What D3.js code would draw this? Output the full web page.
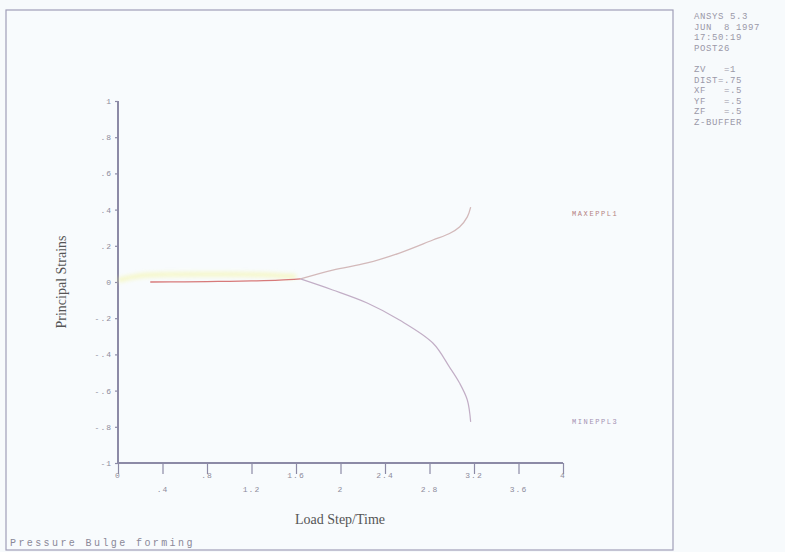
<!DOCTYPE html>
<html>
<head>
<meta charset="utf-8">
<script src="https://cdn.jsdelivr.net/npm/d3@7/dist/d3.min.js"></script>
<style>
  html, body { margin: 0; padding: 0; background: #f7fafc; }
  svg { display: block; }
  text { white-space: pre; }
</style>
</head>
<body>
<svg id="chart" width="785" height="552"></svg>
<script>
// Load step / time values (x) and principal strains (y)
const loadStep   = [0.29, 0.6, 0.9, 1.2, 1.45, 1.64, 1.93, 2.24, 2.53, 2.83, 2.98, 3.07, 3.14, 3.17];
const eppl1      = [0.0, 0.001, 0.003, 0.006, 0.010, 0.017, 0.066, 0.105, 0.160, 0.232, 0.268, 0.304, 0.360, 0.414];
const eppl3      = [0.0, 0.001, 0.003, 0.006, 0.010, 0.017, -0.044, -0.116, -0.210, -0.337, -0.470, -0.558, -0.652, -0.773];
const glowStep   = [0.0, 0.2, 0.5, 0.9, 1.3, 1.6];
const glowStrain = [0.01, 0.035, 0.042, 0.043, 0.04, 0.03];
const splitIndex = 5; // last step of the early (elastic) stage

const xTicks = [0, 0.4, 0.8, 1.2, 1.6, 2, 2.4, 2.8, 3.2, 3.6, 4];
const xTickLabels = ["0", ".4", ".8", "1.2", "1.6", "2", "2.4", "2.8", "3.2", "3.6", "4"];
const yTicks = [1, 0.8, 0.6, 0.4, 0.2, 0, -0.2, -0.4, -0.6, -0.8, -1];
const yTickLabels = ["1", ".8", ".6", ".4", ".2", "0", "-.2", "-.4", "-.6", "-.8", "-1"];
const seriesNames = ["MAXEPPL1", "MINEPPL3"];
const infoLines = ["ANSYS 5.3", "JUN  8 1997", "17:50:19", "POST26", "", "ZV   =1", "DIST=.75", "XF   =.5", "YF   =.5", "ZF   =.5", "Z-BUFFER"];
const footer = "Pressure Bulge forming";

const svg = d3.select("#chart");
const axisColor = "#8c8aa6";
const textColor = "#8e8c9c";
const mono = "'Liberation Mono', 'DejaVu Sans Mono', monospace";

const defs = svg.append("defs");
defs.append("filter").attr("id", "glow")
  .attr("x", "-20%").attr("y", "-300%").attr("width", "140%").attr("height", "700%")
  .append("feGaussianBlur").attr("stdDeviation", 2);

// Outer frame of the graphics window
svg.append("rect").attr("x", 6).attr("y", 10).attr("width", 667).attr("height", 540)
  .attr("fill", "#f8fbfd").attr("stroke", "#a09eb8").attr("stroke-width", 1.2);

const x = d3.scaleLinear().domain([0, 4]).range([118, 563]);
const y = d3.scaleLinear().domain([-1, 1]).range([463, 101]);

// Axes
const gx = svg.append("g").attr("transform", `translate(0,${y(-1)})`)
  .call(d3.axisBottom(x).tickValues(xTicks).tickSize(11).tickFormat(""));
const gy = svg.append("g").attr("transform", `translate(${x(0)},0)`)
  .call(d3.axisLeft(y).tickValues(yTicks).tickSize(3).tickFormat(""));
[gx, gy].forEach(g => {
  g.select(".domain").attr("stroke", axisColor).attr("stroke-width", 2);
  g.selectAll(".tick line").attr("stroke", axisColor).attr("stroke-width", 1.2);
});
gx.select(".domain").attr("d", `M${x(0)},0H${x(4)}`);
gy.select(".domain").attr("d", `M0,${y(-1)}V${y(1)}`);

// X tick labels on two staggered rows
svg.append("g").selectAll("text").data(xTicks).join("text")
  .attr("x", d => x(d))
  .attr("y", (d, i) => y(-1) + (i % 2 === 0 ? 15 : 29))
  .attr("text-anchor", "middle")
  .attr("font-family", mono).attr("font-size", 8).attr("letter-spacing", 1).attr("fill", textColor)
  .text((d, i) => xTickLabels[i]);

// Y tick labels
svg.append("g").selectAll("text").data(yTicks).join("text")
  .attr("x", x(0) - 6).attr("y", d => y(d) + 3)
  .attr("text-anchor", "end")
  .attr("font-family", mono).attr("font-size", 8).attr("letter-spacing", 1).attr("fill", textColor)
  .text((d, i) => yTickLabels[i]);

// Axis titles
svg.append("text").attr("x", 340).attr("y", 524).attr("text-anchor", "middle")
  .attr("font-family", "'Liberation Serif', 'DejaVu Serif', serif").attr("font-size", 14).attr("fill", "#555")
  .text("Load Step/Time");
svg.append("text").attr("transform", `translate(66,${y(0)}) rotate(-90)`).attr("text-anchor", "middle")
  .attr("font-family", "'Liberation Serif', 'DejaVu Serif', serif").attr("font-size", 14).attr("fill", "#555")
  .text("Principal Strains");

const line = d3.line().x(d => x(d[0])).y(d => y(d[1])).curve(d3.curveCatmullRom.alpha(0.5));

// Soft yellow trace near zero strain
svg.append("path").datum(glowStep.map((s, i) => [s, glowStrain[i]]))
  .attr("d", line).attr("fill", "none").attr("stroke", "#f3f38a").attr("stroke-width", 4)
  .attr("opacity", 0.55).attr("filter", "url(#glow)");

const pts1 = loadStep.map((s, i) => [s, eppl1[i]]);
const pts3 = loadStep.map((s, i) => [s, eppl3[i]]);

// Branches after the split
svg.append("path").datum(pts1.slice(splitIndex)).attr("d", line)
  .attr("fill", "none").attr("stroke", "#d3b9ba").attr("stroke-width", 1.3);
svg.append("path").datum(pts3.slice(splitIndex)).attr("d", line)
  .attr("fill", "none").attr("stroke", "#c2aec6").attr("stroke-width", 1.2);
// Early stage, both strains coincide
svg.append("path").datum(pts1.slice(0, splitIndex + 1)).attr("d", line)
  .attr("fill", "none").attr("stroke", "#d77a7a").attr("stroke-width", 1.3);

// Curve labels on the right
svg.append("line").attr("x1", 576).attr("x2", 616).attr("y1", 206).attr("y2", 206)
  .attr("stroke", "#eef27a").attr("stroke-width", 4).attr("opacity", 0.7).attr("filter", "url(#glow)");
svg.append("text").attr("x", 572).attr("y", 216)
  .attr("font-family", mono).attr("font-size", 7).attr("letter-spacing", 1.6).attr("fill", "#b48282")
  .text(seriesNames[0]);
svg.append("text").attr("x", 572).attr("y", 424)
  .attr("font-family", mono).attr("font-size", 7).attr("letter-spacing", 1.6).attr("fill", "#a492b2")
  .text(seriesNames[1]);

// Information panel
svg.append("g").selectAll("text").data(infoLines).join("text")
  .attr("x", 694).attr("y", (d, i) => 19 + i * 10.6)
  .attr("font-family", mono).attr("font-size", 9).attr("letter-spacing", 0.6).attr("fill", "#9a98a8")
  .text(d => d);

// Footer title
svg.append("text").attr("x", 10).attr("y", 546)
  .attr("font-family", mono).attr("font-size", 10).attr("letter-spacing", 2.4).attr("fill", "#8a8898")
  .text(footer);
</script>
</body>
</html>
